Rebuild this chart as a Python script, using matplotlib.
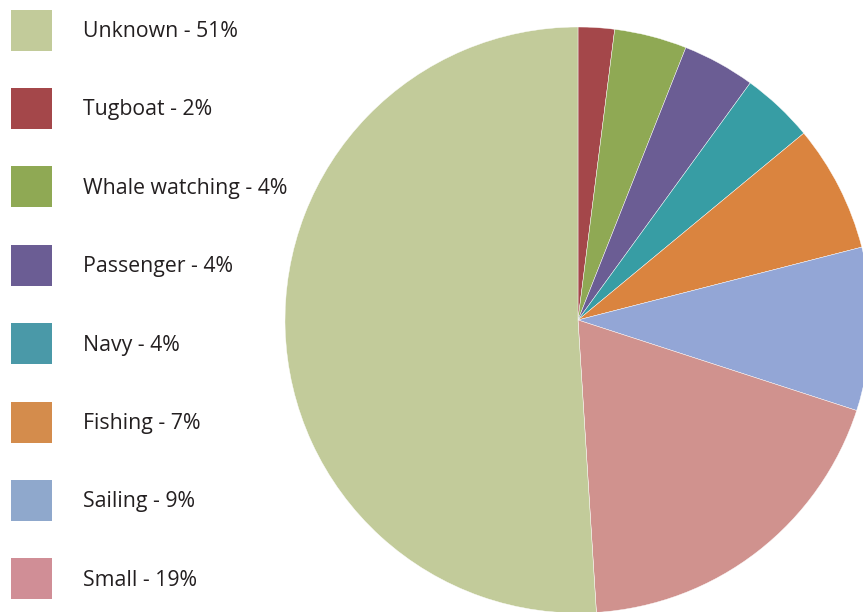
import matplotlib.pyplot as plt
from matplotlib.patches import Rectangle

labels = ["Unknown", "Tugboat", "Whale watching", "Passenger", "Navy", "Fishing", "Sailing", "Small"]
shares = [51, 2, 4, 4, 4, 7, 9, 19]
pie_colors = ["#C2CB9A", "#A4474A", "#8FA954", "#6B5D94", "#379DA4", "#DA843F", "#93A6D6", "#D0928E"]
legend_colors = ["#C2CB9A", "#A4474A", "#8FA954", "#6B5D94", "#4A99A8", "#D48C4C", "#8FA8CC", "#D08E96"]

fig = plt.figure(figsize=(8.63, 6.12), dpi=100)
ax = fig.add_axes([0, 0, 1, 1])

# pie goes clockwise from the top, Unknown last
vals = shares[1:] + shares[:1]
cols = pie_colors[1:] + pie_colors[:1]
ax.pie(vals, colors=cols, startangle=90, counterclock=False,
       center=(578, 292), radius=293, frame=True,
       wedgeprops=dict(edgecolor="white", linewidth=0.3))
ax.set_xlim(0, 863)
ax.set_ylim(0, 612)
ax.set_aspect("auto")
ax.axis("off")

# legend drawn by hand
for i, (lab, s, c) in enumerate(zip(labels, shares, legend_colors)):
    yc = 612 - (30 + i * 78.4)
    ax.add_patch(Rectangle((11, yc - 20.5), 41, 41, facecolor=c, edgecolor="none"))
    ax.text(83, yc - 1.5, f"{lab} - {s}%", fontsize=15.3, family="Open Sans",
            color="#231F20", va="center", ha="left")

fig.savefig("out.png", dpi=100)
